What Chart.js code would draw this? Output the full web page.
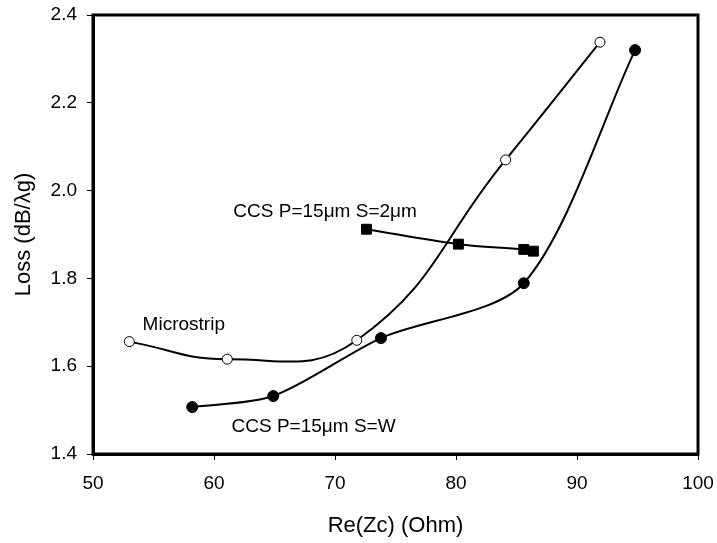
<!DOCTYPE html>
<html>
<head>
<meta charset="utf-8">
<script src="https://cdn.jsdelivr.net/npm/chart.js@4.4.1/dist/chart.umd.min.js"></script>
<style>
  html, body { margin: 0; padding: 0; background: #fff; }
  #wrap { width: 717px; height: 543px; }
</style>
</head>
<body>
<div id="wrap"><canvas id="chart"></canvas></div>
<script>
// values
const microstripX = [53.0, 61.1, 71.8, 84.1, 91.9];
const microstripY = [1.656, 1.616, 1.659, 2.070, 2.338];

const ccsWX = [58.2, 64.9, 73.8, 85.6, 94.8];
const ccsWY = [1.507, 1.532, 1.664, 1.789, 2.320];

const ccs2X = [72.6, 80.2, 85.6, 86.4];
const ccs2Y = [1.912, 1.878, 1.866, 1.862];

const xTicks = [50, 60, 70, 80, 90, 100];
const yTicks = [1.4, 1.6, 1.8, 2.0, 2.2, 2.4];

const seriesLabels = ["Microstrip", "CCS P=15μm S=2μm", "CCS P=15μm S=W"];
const labelAnchorX = [54.1, 61.6, 61.45];
const labelAnchorY = [1.694, 1.951, 1.463];

const FONT = "'Liberation Sans', Arial, sans-serif";

function toPoints(xs, ys) {
  return xs.map((x, i) => ({ x, y: ys[i] }));
}

const frameAndLabels = {
  id: "frameAndLabels",
  afterDatasetsDraw(chart) {
    const { ctx, chartArea, scales } = chart;
    ctx.save();
    ctx.strokeStyle = "#000";
    ctx.lineWidth = 3;
    ctx.strokeRect(
      chartArea.left,
      chartArea.top,
      chartArea.right - chartArea.left,
      chartArea.bottom - chartArea.top,
    );
    ctx.fillStyle = "#000";
    ctx.font = `19px ${FONT}`;
    ctx.textBaseline = "middle";
    ctx.textAlign = "left";
    seriesLabels.forEach((text, i) => {
      ctx.fillText(
        text,
        scales.x.getPixelForValue(labelAnchorX[i]),
        scales.y.getPixelForValue(labelAnchorY[i]),
      );
    });
    ctx.restore();
  },
};

const lineStyle = {
  showLine: true,
  borderColor: "#000",
  borderWidth: 2,
  pointBorderColor: "#000",
  pointBorderWidth: 1,
};

new Chart(document.getElementById("chart"), {
  type: "scatter",
  data: {
    datasets: [
      {
        ...lineStyle,
        label: seriesLabels[0],
        data: toPoints(microstripX, microstripY),
        tension: 0.45,
        pointStyle: "circle",
        pointRadius: 5,
        pointBackgroundColor: "#fff",
      },
      {
        ...lineStyle,
        label: seriesLabels[1],
        data: toPoints(ccs2X, ccs2Y),
        tension: 0.35,
        pointStyle: "rect",
        pointRadius: 7,
        pointBackgroundColor: "#000",
      },
      {
        ...lineStyle,
        label: seriesLabels[2],
        data: toPoints(ccsWX, ccsWY),
        tension: 0.28,
        pointStyle: "circle",
        pointRadius: 5.5,
        pointBackgroundColor: "#000",
      },
    ],
  },
  options: {
    responsive: true,
    maintainAspectRatio: false,
    animation: false,
    layout: { padding: { top: 15, right: 19, left: 0, bottom: 0 } },
    plugins: {
      legend: { display: false },
      tooltip: { enabled: false },
    },
    scales: {
      x: {
        type: "linear",
        min: 50,
        max: 100,
        afterBuildTicks: (scale) => {
          scale.ticks = xTicks.map((value) => ({ value }));
        },
        afterFit: (scale) => {
          scale.height = 89;
          scale.paddingLeft = 0;
          scale.paddingRight = 0;
        },
        grid: {
          drawOnChartArea: false,
          drawTicks: true,
          tickLength: 6,
          color: "#000",
          lineWidth: 1,
        },
        border: { display: true, color: "#000", width: 3 },
        ticks: {
          color: "#000",
          font: { family: FONT, size: 19 },
          padding: 12,
          maxRotation: 0,
        },
        title: {
          display: true,
          text: "Re(Zc) (Ohm)",
          color: "#000",
          font: { family: FONT, size: 22 },
          padding: { top: 4, bottom: 4 },
        },
      },
      y: {
        type: "linear",
        min: 1.4,
        max: 2.4,
        afterBuildTicks: (scale) => {
          scale.ticks = yTicks.map((value) => ({ value }));
        },
        afterFit: (scale) => {
          scale.width = 93;
          scale.paddingTop = 0;
          scale.paddingBottom = 0;
        },
        grid: {
          drawOnChartArea: false,
          drawTicks: true,
          tickLength: 6,
          color: "#000",
          lineWidth: 1,
        },
        border: { display: true, color: "#000", width: 3 },
        ticks: {
          color: "#000",
          font: { family: FONT, size: 19 },
          padding: 10,
          callback: (value) => value.toFixed(1),
        },
        title: {
          display: true,
          text: "Loss (dB/λg)",
          color: "#000",
          font: { family: FONT, size: 22 },
          padding: { top: 11, bottom: 11 },
        },
      },
    },
  },
  plugins: [frameAndLabels],
});
</script>
</body>
</html>
